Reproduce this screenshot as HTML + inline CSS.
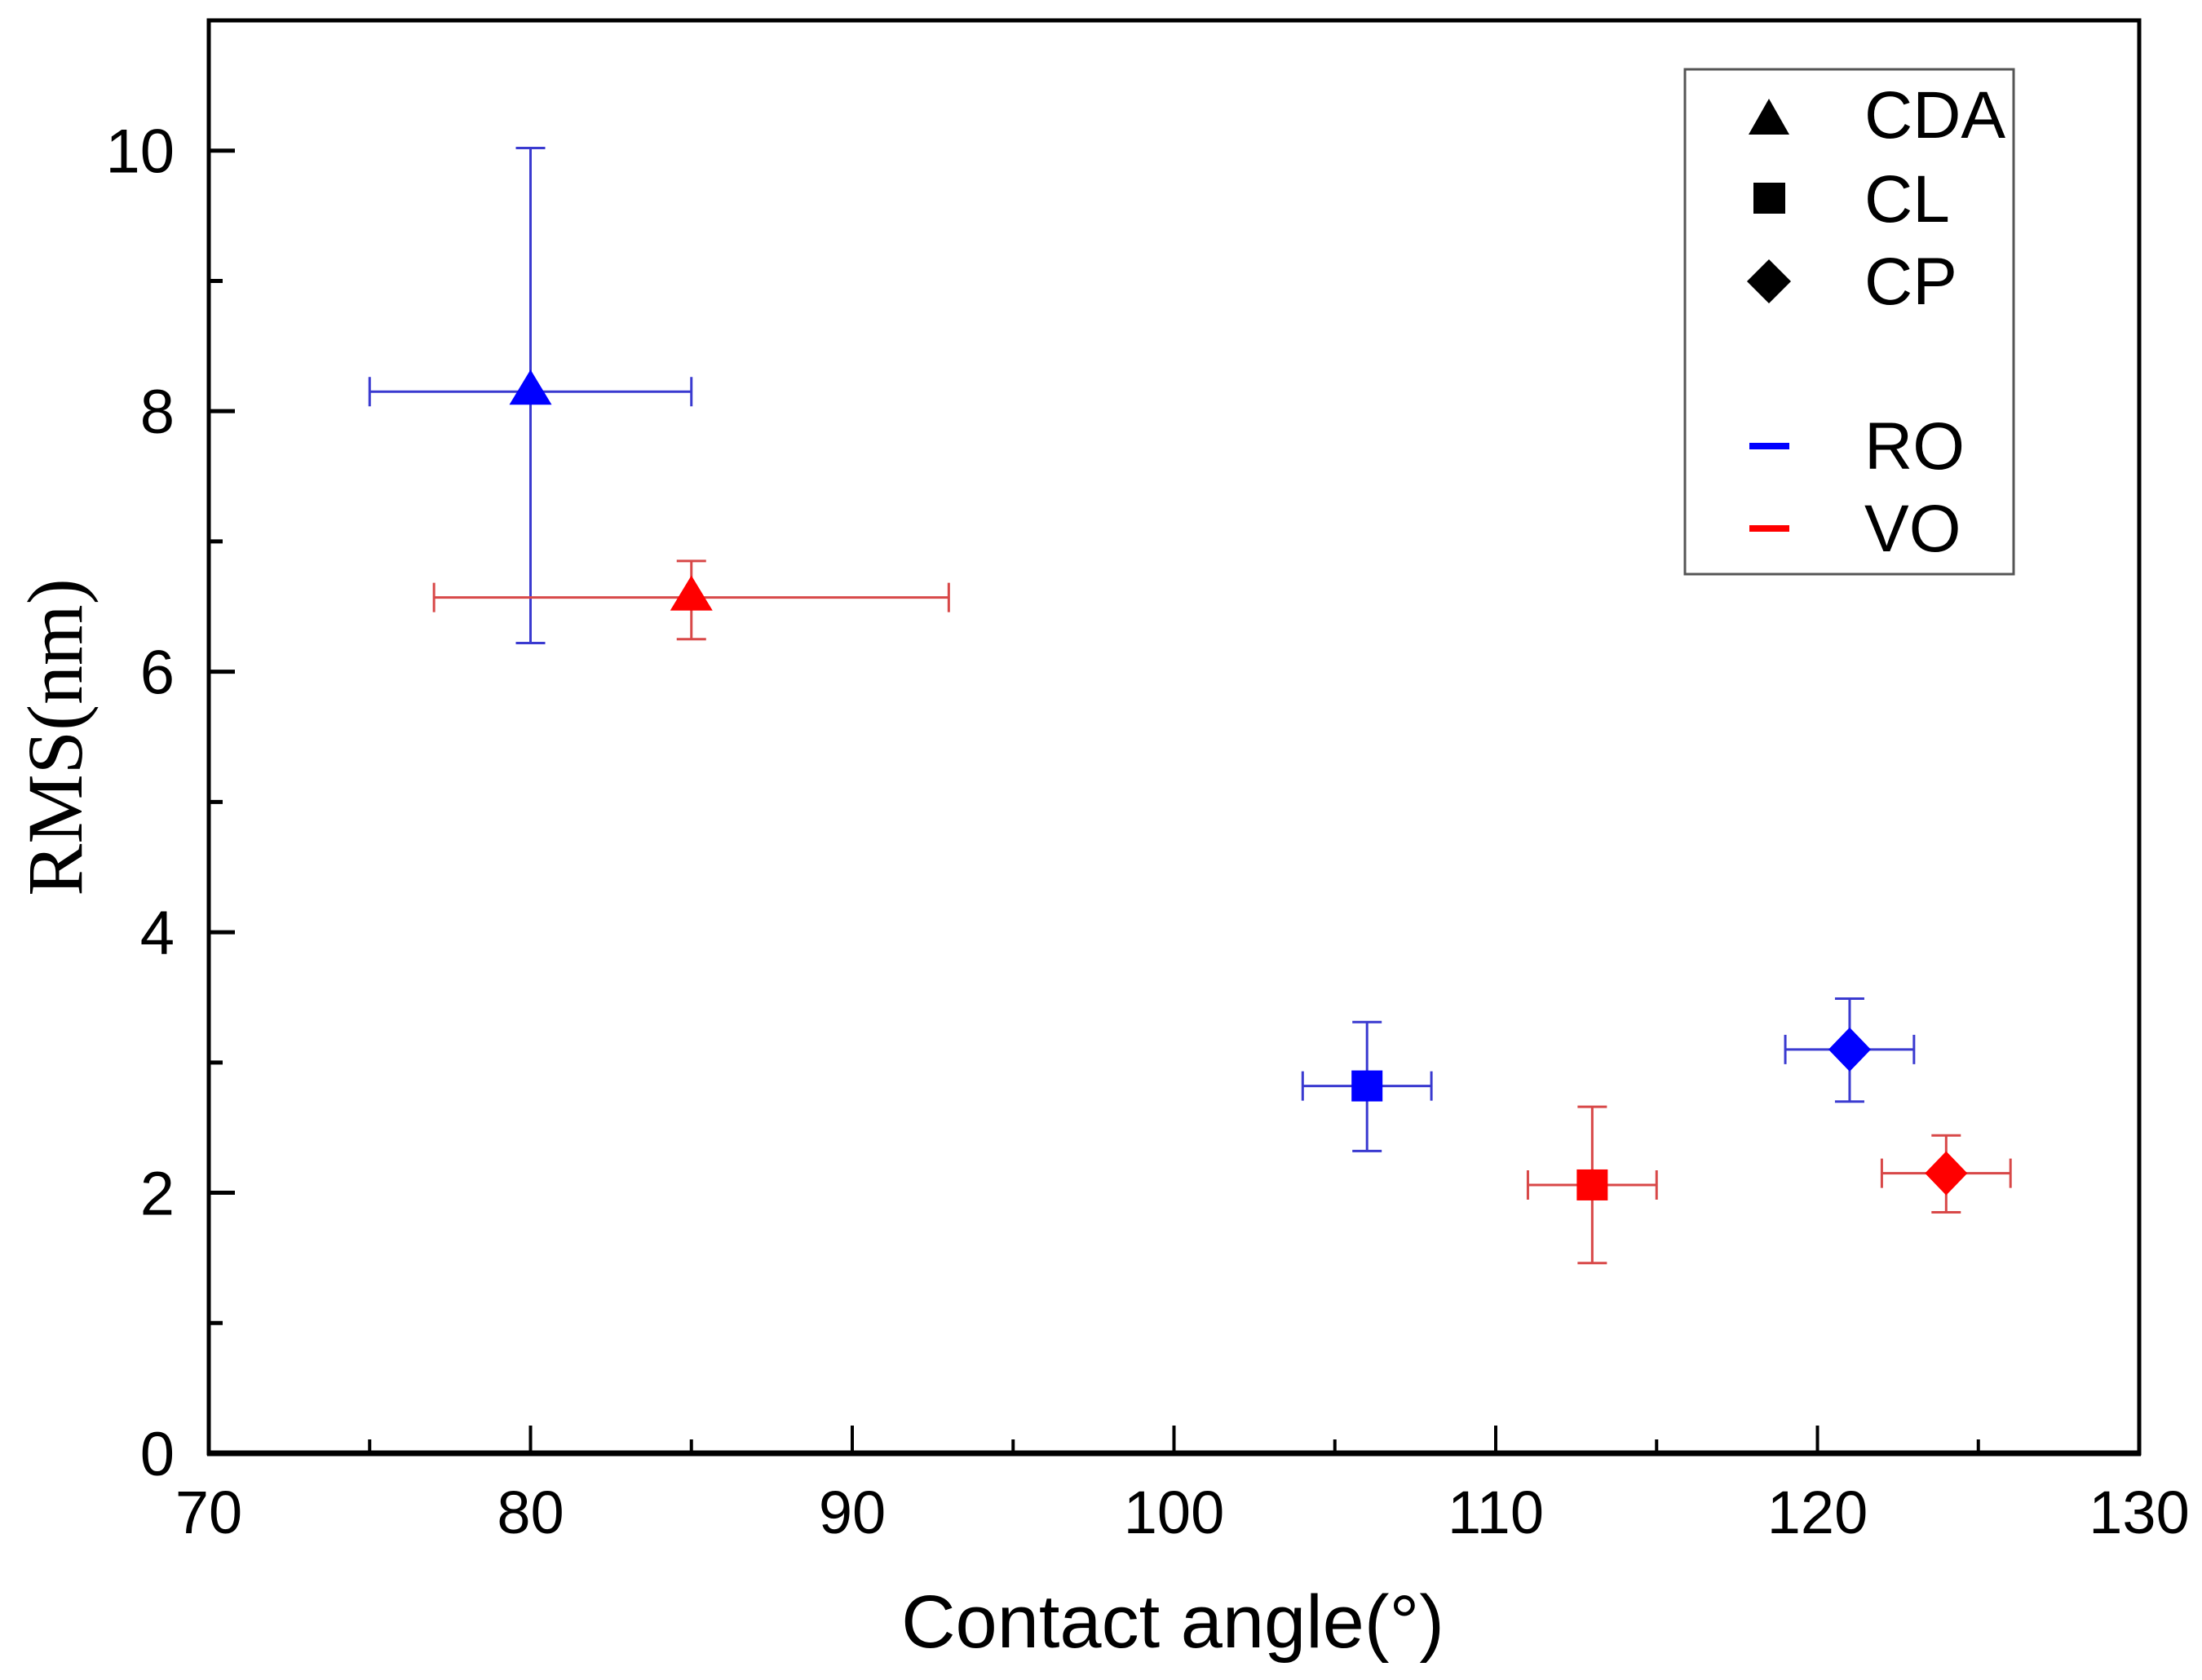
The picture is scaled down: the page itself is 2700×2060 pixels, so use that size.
<!DOCTYPE html>
<html><head><meta charset="utf-8"><style>
html,body{margin:0;padding:0;background:#fff;}
svg{display:block;}
</style></head><body>
<svg id="chart" width="2700" height="2060" viewBox="0 0 2700 2060" xmlns="http://www.w3.org/2000/svg">
<rect x="0" y="0" width="2700" height="2060" fill="#fff"/>
<g id="plot"></g>
<text x="1438" y="2020" font-family="Liberation Sans, sans-serif" font-size="92" text-anchor="middle">Contact angle(°)</text>
<text transform="translate(100,904) rotate(-90)" font-family="Liberation Serif, serif" font-size="96" text-anchor="middle">RMS(nm)</text>
<g>
<rect x="2066" y="85" width="403" height="619" fill="#fff" stroke="#555" stroke-width="3"/>
<polygon points="2144,165 2194,165 2169,121" fill="#000"/>
<text x="2286" y="169" font-family="Liberation Sans, sans-serif" font-size="82">CDA</text>
<rect x="2150" y="224" width="39" height="38" fill="#000"/>
<text x="2286" y="272" font-family="Liberation Sans, sans-serif" font-size="82">CL</text>
<polygon points="2169,318 2196,345 2169,372 2142,345" fill="#000"/>
<text x="2286" y="373" font-family="Liberation Sans, sans-serif" font-size="82">CP</text>
<rect x="2145" y="543" width="49" height="8" fill="#0000ff"/>
<text x="2286" y="575" font-family="Liberation Sans, sans-serif" font-size="82">RO</text>
<rect x="2145" y="644" width="49" height="8" fill="#ff0000"/>
<text x="2286" y="676" font-family="Liberation Sans, sans-serif" font-size="82">VO</text>
</g>
</svg>
<script>
const xTicks = [70, 80, 90, 100, 110, 120, 130];
const yTicks = [0, 2, 4, 6, 8, 10];
const seriesNames = ["RO", "RO", "RO", "VO", "VO", "VO"];
const shapes = ["triangle", "square", "diamond", "triangle", "square", "diamond"];
const xValues = [80, 106, 121, 85, 113, 124];
const yValues = [8.15, 2.82, 3.10, 6.57, 2.06, 2.15];
const xLow = [75, 104, 119, 77, 111, 122];
const xHigh = [85, 108, 123, 93, 115, 126];
const yLow = [6.22, 2.32, 2.70, 6.25, 1.46, 1.85];
const yHigh = [10.02, 3.31, 3.49, 6.85, 2.66, 2.44];

const L = 256, R = 2623, T = 25, B = 1782;
const xMin = 70, xMax = 130, yMin = 0, yMax = 11;
function sx(v){ return L + (v - xMin) / (xMax - xMin) * (R - L); }
function sy(v){ return B - (v - yMin) / (yMax - yMin) * (B - T); }
const NS = "http://www.w3.org/2000/svg";
const g = document.getElementById("plot");
function mk(tag, attrs){ const e = document.createElementNS(NS, tag); for (const k in attrs) e.setAttribute(k, attrs[k]); g.appendChild(e); return e; }

// ticks
for (let v = xMin; v <= xMax; v += 5) {
  const major = v % 10 === 0;
  const t = mk("line", {x1: sx(v), x2: sx(v), y1: B, y2: B - (major ? 34 : 17), stroke: "#000", "stroke-width": 4});
  
  
}
for (let v = yMin + 1; v <= yMax - 1; v += 1) {
  const major = v % 2 === 0;
  const t = mk("line", {x1: L, x2: L + (major ? 32 : 17), y1: sy(v), y2: sy(v), stroke: "#000", "stroke-width": 5});
  
  
}
xTicks.forEach(v => {
  const t = mk("text", {x: sx(v), y: 1880, "font-family": "Liberation Sans, sans-serif", "font-size": 74, "text-anchor": "middle"});
  t.textContent = v;
  
  
});
yTicks.forEach(v => {
  const t = mk("text", {x: 214, y: sy(v) + 27, "font-family": "Liberation Sans, sans-serif", "font-size": 76, "text-anchor": "end"});
  t.textContent = v;
  
  
});
// frame
const fr = mk("rect", {x: L, y: T, width: R - L, height: B - T, fill: "none", stroke: "#000", "stroke-width": 5});


const xa = mk("line", {x1: L - 2, x2: R + 2, y1: B, y2: B, stroke: "#000", "stroke-width": 7});



// data
for (let i = 0; i < xValues.length; i++) {
  const ro = seriesNames[i] === "RO";
  const ec = ro ? "#3a3ad0" : "#d84848";
  const fc = ro ? "#0000ff" : "#ff0000";
  const cx = sx(xValues[i]), cy = sy(yValues[i]);
  const x1 = sx(xLow[i]), x2 = sx(xHigh[i]), y1 = sy(yLow[i]), y2 = sy(yHigh[i]);
  const eb = mk("path", {d: `M${x1},${cy}H${x2}M${x1},${cy-18}V${cy+18}M${x2},${cy-18}V${cy+18}M${cx},${y1}V${y2}M${cx-18},${y1}H${cx+18}M${cx-18},${y2}H${cx+18}`, stroke: ec, "stroke-width": 3, fill: "none"});
  
  
  let m;
  if (shapes[i] === "triangle") m = mk("polygon", {points: `${cx-26},${cy+16} ${cx+26},${cy+16} ${cx},${cy-27}`, fill: fc});
  else if (shapes[i] === "square") m = mk("rect", {x: cx - 19, y: cy - 19, width: 38, height: 38, fill: fc});
  else m = mk("polygon", {points: `${cx},${cy-27} ${cx+26},${cy} ${cx},${cy+27} ${cx-26},${cy}`, fill: fc});
  
  
}
</script>
</body></html>
